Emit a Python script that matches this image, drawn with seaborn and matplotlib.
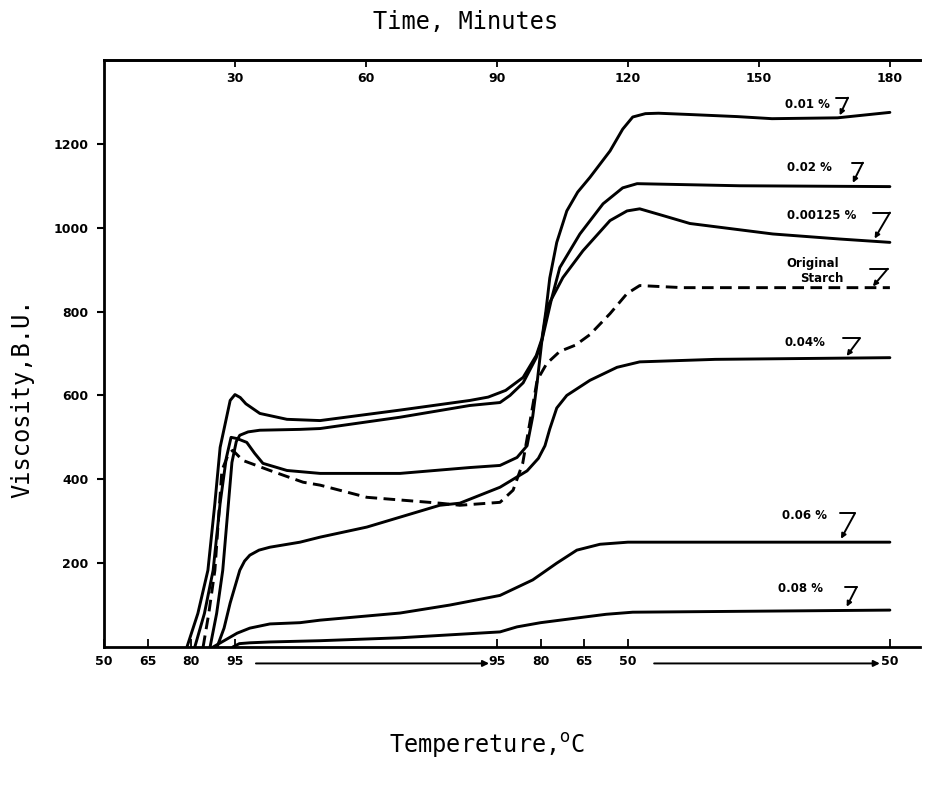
import matplotlib
matplotlib.use("Agg")
import matplotlib.pyplot as plt
import numpy as np
import pandas as pd
import seaborn as sns

# ---------------- data (time in minutes, viscosity in B.U.) ----------------
t_001 = [19.0, 21.5, 23.8, 25.4, 26.6, 28.9, 30.0, 31.2, 32.5, 35.7, 41.9, 49.5, 67.8, 83.8, 88.0,
         92.0, 96.0, 99.0, 100.3, 101.2, 102.1, 103.7, 106.0, 108.5, 111.3, 115.9, 118.8, 121.1,
         124.0, 127.0, 134.0, 145.0, 153.0, 168.0, 180.0]
v_001 = [0, 80, 183, 343, 476, 588, 602, 595, 580, 557, 543, 540, 565, 588, 596,
         612, 643, 695, 735, 800, 880, 965, 1040, 1085, 1120, 1183, 1235, 1264,
         1272, 1273, 1270, 1265, 1260, 1262, 1275]

t_002 = [24.3, 25.8, 27.2, 29.3, 30.3, 31.1, 33.0, 35.7, 44.9, 49.5, 67.8, 83.8, 90.7, 93.0,
         96.0, 99.0, 100.3, 102.5, 104.4, 109.0, 114.3, 118.8, 122.1, 145.6, 180.0]
v_002 = [0, 80, 183, 440, 490, 505, 513, 517, 519, 521, 548, 576, 583, 600,
         630, 690, 731, 830, 905, 985, 1057, 1095, 1105, 1100, 1098]

t_00125 = [20.8, 23.0, 25.0, 26.6, 28.0, 29.1, 30.5, 32.7, 34.5, 36.4, 41.9, 49.5, 67.8, 83.8,
           90.7, 94.6, 96.9, 98.2, 99.2, 100.3, 101.5, 105.1, 109.7, 115.9, 119.8, 122.7, 128.0,
           134.2, 153.2, 168.5, 180.0]
v_00125 = [0, 80, 183, 343, 450, 500, 497, 488, 462, 438, 421, 414, 414, 428,
           433, 452, 480, 550, 630, 731, 810, 881, 945, 1017, 1040, 1045, 1029,
           1010, 985, 973, 965]

t_orig = [22.7, 24.0, 25.4, 27.0, 28.5, 29.5, 31.8, 38.0, 45.6, 49.5, 60.2, 76.9, 81.5, 90.7,
          93.7, 95.9, 97.5, 99.2, 101.4, 104.4, 108.0, 111.3, 115.9, 119.8, 122.7, 132.6, 180.0]
v_orig = [0, 80, 183, 421, 460, 469, 445, 421, 393, 386, 357, 343, 338, 345,
          374, 438, 533, 636, 676, 705, 720, 745, 795, 843, 862, 857, 857]

t_004 = [25.9, 27.5, 28.9, 31.1, 32.2, 33.4, 35.5, 38.0, 44.9, 49.5, 60.2, 76.9, 81.5, 90.7,
         96.9, 99.5, 101.0, 102.1, 103.7, 106.0, 111.3, 117.5, 122.7, 140.0, 180.0]
v_004 = [0, 45, 105, 183, 205, 219, 231, 238, 250, 262, 286, 338, 343, 381,
         420, 450, 480, 520, 570, 600, 636, 667, 680, 686, 690]

t_006 = [25.0, 27.5, 30.5, 33.4, 38.0, 44.9, 49.5, 67.8, 79.2, 90.7, 98.2, 103.7, 108.3, 113.6,
         120.0, 180.0]
v_006 = [0, 15, 33, 45, 55, 58, 64, 81, 100, 123, 160, 200, 231, 245,
         250, 250]

t_008 = [29.5, 31.0, 33.4, 38.0, 49.5, 67.8, 90.7, 94.6, 100.0, 109.7, 115.0, 121.1, 180.0]
v_008 = [0, 8, 10, 12, 15, 22, 36, 48, 58, 71, 78, 83, 88]

series_names = ["0.01 %", "0.02 %", "0.00125 %", "Original Starch", "0.04%", "0.06 %", "0.08 %"]

time_ticks = [30, 60, 90, 120, 150, 180]
temp_tick_pos = [0, 10, 20, 30, 90, 100, 110, 120, 180]
temp_tick_lab = ["50", "65", "80", "95", "95", "80", "65", "50", "50"]
visc_ticks = [200, 400, 600, 800, 1000, 1200]

# ---------------- build table ----------------
frames = []
for name, tt, vv in zip(series_names,
                        [t_001, t_002, t_00125, t_orig, t_004, t_006, t_008],
                        [v_001, v_002, v_00125, v_orig, v_004, v_006, v_008]):
    frames.append(pd.DataFrame({"t": tt, "v": vv, "series": name}))
df = pd.concat(frames, ignore_index=True)

sns.set_theme(style="white")
plt.rcParams["font.family"] = ["DejaVu Sans"]
plt.rcParams["text.color"] = "black"
plt.rcParams["xtick.color"] = "black"
plt.rcParams["ytick.color"] = "black"

fig = plt.figure(figsize=(9.31, 7.85), dpi=100)
ax = fig.add_axes([0.1117, 0.1758, 0.8765, 0.7478])

palette = {n: "black" for n in series_names}
dashes = {n: "" for n in series_names}
dashes["Original Starch"] = (4, 2.2)
sns.lineplot(data=df, x="t", y="v", hue="series", style="series", palette=palette,
             dashes=dashes, sort=False, estimator=None, legend=False, lw=2.1, ax=ax)

ax.set_xlim(0, 186.9)
ax.set_ylim(0, 1400)
ax.set_xlabel("")
ax.set_ylabel("")

for s in ["top", "bottom", "left"]:
    ax.spines[s].set_linewidth(2.0)
    ax.spines[s].set_color("black")
ax.spines["right"].set_visible(False)

ax.set_yticks(visc_ticks)
ax.set_yticklabels([str(v) for v in visc_ticks], fontsize=9, fontweight="bold")
ax.tick_params(axis="y", direction="out", length=5, width=1.5, left=True, pad=6,
               colors="black")

ax.set_xticks(temp_tick_pos)
ax.set_xticklabels(temp_tick_lab, fontsize=9, fontweight="bold")
ax.tick_params(axis="x", direction="in", length=6, width=1.3, bottom=True, pad=6,
               colors="black")

sec = ax.secondary_xaxis("top")
sec.set_xticks(time_ticks)
sec.set_xticklabels([str(t) for t in time_ticks], fontsize=9, fontweight="bold")
sec.tick_params(axis="x", direction="in", length=5, width=1.3, pad=-18, colors="black")
sec.spines["top"].set_linewidth(2.0)

# arrows along temperature axis
for a, b in [(34.8, 88.2), (126.0, 177.7)]:
    ax.annotate("", xy=(b, -0.028), xytext=(a, -0.028),
                xycoords=ax.get_xaxis_transform(), textcoords=ax.get_xaxis_transform(),
                arrowprops=dict(arrowstyle="-|>", lw=1.4, color="black",
                                mutation_scale=9, shrinkA=0, shrinkB=0),
                annotation_clip=False)

# curve labels with "7"-shaped pointers
labels = [
    ("0.01 %", 155.9, 1295, (167.6, 170.4, 1310), (168.5, 1268)),
    ("0.02 %", 156.4, 1143, (171.3, 173.8, 1155), (171.5, 1107)),
    ("0.00125 %", 156.4, 1029, (176.1, 180.0, 1036), (176.5, 974)),
    ("0.04%", 155.9, 726, (169.2, 173.1, 736), (170.1, 694)),
    ("0.06 %", 155.2, 314, (168.5, 172.0, 319), (168.8, 258)),
    ("0.08 %", 154.3, 140, (169.7, 172.4, 143), (170.1, 96)),
]
for txt, tx, ty, bar, tip in labels:
    ax.text(tx, ty, txt, fontsize=8.5, fontweight="bold", ha="left", va="center")
    ax.plot([bar[0], bar[1]], [bar[2], bar[2]], color="black", lw=1.4)
    ax.annotate("", xy=tip, xytext=(bar[1], bar[2]),
                arrowprops=dict(arrowstyle="-|>", lw=1.4, color="black",
                                mutation_scale=7, shrinkA=0, shrinkB=0))

ax.text(156.4, 914, "Original", fontsize=8.5, fontweight="bold", ha="left", va="center")
ax.text(159.4, 879, "Starch", fontsize=8.5, fontweight="bold", ha="left", va="center")
ax.plot([175.4, 179.5], [902, 902], color="black", lw=1.4)
ax.annotate("", xy=(176.1, 860), xytext=(179.5, 902),
            arrowprops=dict(arrowstyle="-|>", lw=1.4, color="black",
                            mutation_scale=7, shrinkA=0, shrinkB=0))

mono = ["DejaVu Sans Mono"]
fig.text(466 / 931, 1 - 22 / 785, "Time, Minutes", ha="center", va="center",
         fontsize=17, family=mono)
fig.text(487 / 931, 1 - 745 / 785, "Tempereture,$^{\\mathrm{o}}$C", ha="center", va="center",
         fontsize=17, family=mono)
fig.text(22 / 931, 1 - 398 / 785, "Viscosity,B.U.", ha="center", va="center",
         rotation=90, fontsize=17, family=mono)

fig.savefig("out.png", dpi=100, facecolor="white")
